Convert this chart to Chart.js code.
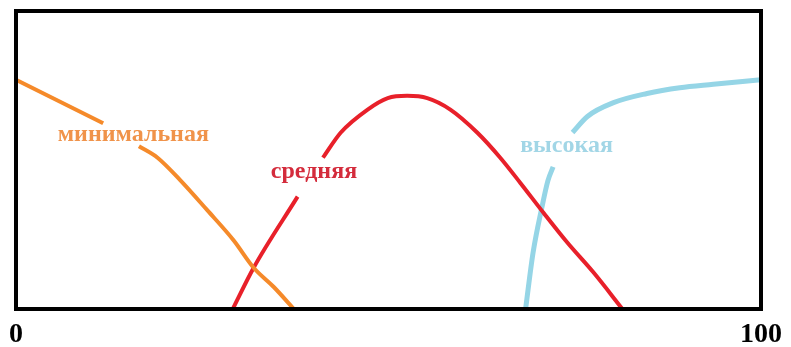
<!DOCTYPE html>
<html>
<head>
<meta charset="utf-8">
<script src="https://cdn.jsdelivr.net/npm/chart.js@4/dist/chart.umd.min.js"></script>
<style>
  html, body { margin: 0; padding: 0; background: #fff; }
  canvas { display: block; }
</style>
</head>
<body>
<canvas id="grafico" width="791" height="347"></canvas>
<script>
// значения (x: 0..100, y: степень принадлежности)
var tickLabels = [0, 100]

var minX = [0, 11.7, 14, 16.5, 19.0, 22.1, 25.7, 29.2, 31.9, 34.6, 37.3]
var minY = [1.0, 0.81, null, 0.71, 0.66, 0.56, 0.43, 0.30, 0.18, 0.096, 0]

var midX = [29.1, 31.9, 37.8, 39.5, 41.2, 43.6, 47.2, 49.9, 52.5, 55.2, 58.3, 61.9, 65.0, 67.7, 70.8, 74.0, 77.5, 81.4]
var midY = [0, 0.18, 0.49, null, 0.66, 0.77, 0.87, 0.92, 0.93, 0.92, 0.87, 0.77, 0.66, 0.55, 0.42, 0.29, 0.16, 0]

var highX = [68.4, 69.4, 70.6, 71.4, 72.1, 73.4, 74.7, 76.7, 80.2, 84.7, 89.1, 93.6, 100]
var highY = [0, 0.245, 0.445, 0.56, 0.62, null, 0.77, 0.84, 0.90, 0.94, 0.965, 0.98, 1.0]

var names = ['минимальная', 'средняя', 'высокая']
var nameX = [15.75, 40.0, 73.9]
var nameY = [0.76, 0.60, 0.71]

var lineColors = ['#f58a2a', '#e8202a', '#95d5e6']
var textColors = ['#f0934a', '#d42c3c', '#a2d6e6']

function toPoints(xs, ys) {
  return xs.map((x, i) => ({ x: x, y: ys[i] }))
}

// рамка вокруг области графика
var framePlugin = {
  id: 'frame',
  afterDatasetsDraw(chart) {
    const a = chart.chartArea
    const ctx = chart.ctx
    ctx.save()
    ctx.strokeStyle = '#000'
    ctx.lineWidth = 4
    ctx.strokeRect(a.left, a.top, a.right - a.left, a.bottom - a.top)
    ctx.restore()
  }
}

// подписи кривых
var namesPlugin = {
  id: 'names',
  afterDatasetsDraw(chart) {
    const ctx = chart.ctx
    const sx = chart.scales.x
    const sy = chart.scales.y
    ctx.save()
    ctx.font = 'bold 24px "Liberation Serif", "DejaVu Serif", serif'
    ctx.textAlign = 'center'
    ctx.textBaseline = 'middle'
    names.forEach((n, i) => {
      ctx.fillStyle = textColors[i]
      ctx.fillText(n, sx.getPixelForValue(nameX[i]), sy.getPixelForValue(nameY[i]))
    })
    ctx.restore()
  }
}

function dataset(xs, ys, color, width) {
  return {
    data: toPoints(xs, ys),
    borderColor: color,
    borderWidth: width,
    pointRadius: 0,
    cubicInterpolationMode: 'monotone',
    spanGaps: false,
    fill: false
  }
}

new Chart(document.getElementById('grafico'), {
  type: 'line',
  data: {
    datasets: [
      dataset(minX, minY, lineColors[0], 4),
      dataset(midX, midY, lineColors[1], 4),
      dataset(highX, highY, lineColors[2], 5)
    ]
  },
  options: {
    responsive: false,
    animation: false,
    layout: { padding: { left: 15, right: 30, top: 11, bottom: 0 } },
    plugins: { legend: { display: false }, tooltip: { enabled: false } },
    scales: {
      x: {
        type: 'linear',
        min: 0,
        max: 100,
        afterFit(scale) { scale.height = 38 },
        afterBuildTicks(scale) { scale.ticks = tickLabels.map(v => ({ value: v })) },
        grid: { display: false, drawTicks: false },
        border: { display: false },
        ticks: {
          padding: 9,
          maxRotation: 0,
          autoSkip: false,
          color: '#000',
          font: { family: '"Liberation Serif", "DejaVu Serif", serif', size: 28, weight: 'bold' }
        }
      },
      y: {
        display: false,
        min: 0,
        max: 1.3
      }
    }
  },
  plugins: [framePlugin, namesPlugin]
})
</script>
</body>
</html>
